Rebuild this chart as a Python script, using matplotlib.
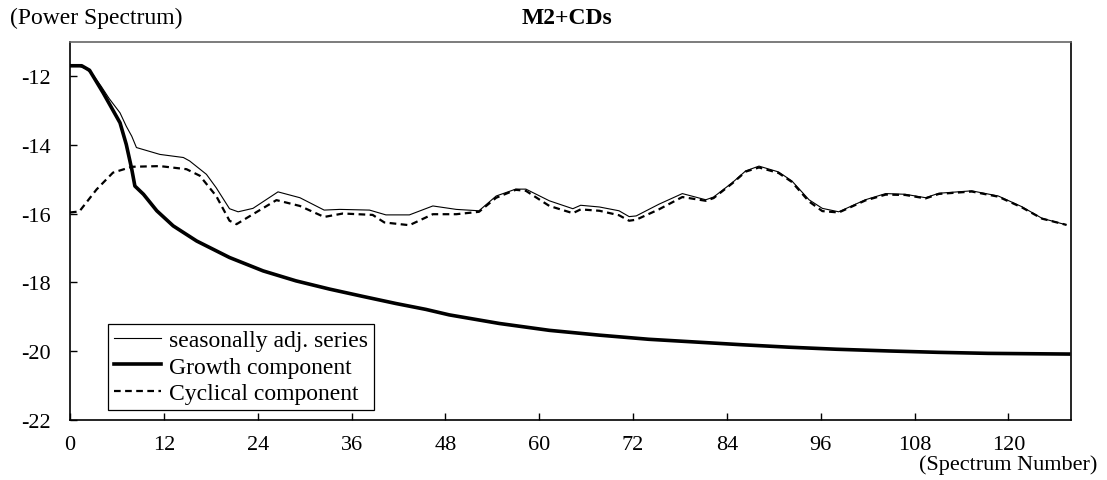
import matplotlib
matplotlib.use("Agg")
import matplotlib.pyplot as plt

# values (spectrum number, log power)
sa_x = [0, 1, 2, 3, 4, 5, 6.4, 7.2, 7.9, 8.5, 11.5, 14.5, 15.3, 17.45, 18.7, 20.4,
        21.5, 23.4, 26.6, 29.4, 32.5, 34.5, 38.3, 40.4, 43.4, 46.4, 49.4, 52.3,
        54.5, 57, 58.3, 61.3, 64.3, 65.3, 67.7, 70.2, 71.5, 72.4, 75.3, 78.3,
        81.3, 82.3, 84.7, 86.4, 88.1, 90.6, 92.3, 94.5, 96.2, 98.3, 101.7, 104.3,
        106.8, 109.4, 111.1, 115.3, 118.7, 121.7, 124.3, 127.4]
sa_y = [-11.70, -11.70, -11.78, -11.98, -12.30, -12.65, -13.07, -13.46, -13.75,
        -14.08, -14.28, -14.37, -14.47, -14.86, -15.25, -15.86, -15.95, -15.85,
        -15.37, -15.54, -15.90, -15.88, -15.90, -16.04, -16.04, -15.78, -15.88,
        -15.92, -15.49, -15.29, -15.29, -15.63, -15.86, -15.76, -15.81, -15.92,
        -16.09, -16.07, -15.73, -15.42, -15.60, -15.52, -15.10, -14.76, -14.62,
        -14.79, -15.05, -15.60, -15.85, -15.95, -15.60, -15.42, -15.44, -15.54,
        -15.41, -15.34, -15.49, -15.80, -16.14, -16.33]

cyc_x = [0, 1.2, 3.4, 5.5, 7.9, 11.5, 14.9, 16.6, 18.7, 20.4, 21.3, 23.4, 26.4,
         29.4, 32.5, 34.9, 38.7, 40.2, 43.4, 46.4, 49.4, 52.3, 54.5, 57, 58.3,
         61.3, 64.3, 65.3, 67.7, 70.2, 71.5, 72.4, 75.3, 78.3, 81.3, 82.3, 84.7,
         86.4, 88.1, 90.6, 92.3, 94.5, 96.2, 98.3, 101.7, 104.3, 106.8, 109.4,
         111.1, 115.3, 118.7, 121.7, 124.3, 127.4]
cyc_y = [-15.97, -15.94, -15.30, -14.81, -14.64, -14.62, -14.71, -14.90, -15.49,
         -16.21, -16.31, -16.02, -15.61, -15.78, -16.10, -16.00, -16.04, -16.26,
         -16.34, -16.02, -16.02, -15.95, -15.54, -15.31, -15.34, -15.78, -15.99,
         -15.88, -15.92, -16.05, -16.21, -16.18, -15.88, -15.52, -15.63, -15.55,
         -15.12, -14.78, -14.66, -14.82, -15.08, -15.65, -15.93, -15.97, -15.62,
         -15.45, -15.46, -15.56, -15.43, -15.36, -15.51, -15.82, -16.15, -16.33]

gr_x = [0, 1.5, 2.5, 4.25, 6.4, 7.2, 7.9, 8.3, 9.4, 11.1, 13.2, 16.2, 20.4, 24.7,
        28.9, 33.2, 37.4, 41.7, 45.5, 48.5, 54.9, 61.3, 67.7, 74, 80, 86, 91.9,
        98, 104.7, 111, 117.4, 122.5, 127.7]
gr_y = [-11.70, -11.70, -11.83, -12.49, -13.36, -13.99, -14.71, -15.20, -15.44,
        -15.92, -16.36, -16.80, -17.28, -17.67, -17.96, -18.20, -18.41, -18.62,
        -18.79, -18.95, -19.20, -19.40, -19.54, -19.66, -19.74, -19.82, -19.89,
        -19.95, -20.00, -20.04, -20.07, -20.08, -20.09]

x_ticks = list(range(0, 121, 12))
y_ticks = [-22, -20, -18, -16, -14, -12]

plt.rcParams["font.family"] = ["Liberation Serif", "DejaVu Serif"]
plt.rcParams["axes.unicode_minus"] = False

fig = plt.figure(figsize=(11.07, 4.81), dpi=100)
ax = fig.add_axes([0.0632, 0.1254, 0.9043, 0.7858])

ax.plot(sa_x, sa_y, color="black", lw=0.8, label="seasonally adj. series")
ax.plot(gr_x, gr_y, color="black", lw=2.6, label="Growth component")
ax.plot(cyc_x, cyc_y, color="black", lw=1.6, ls=(0, (3, 2)),
        label="Cyclical component")

ax.set_xlim(0, 128)
ax.set_ylim(-22, -11)
ax.set_xticks(x_ticks)
ax.set_yticks(y_ticks)
ax.tick_params(axis="both", direction="in", length=5, width=1, labelsize=16,
               colors="black")
ax.tick_params(axis="x", pad=11)
ax.tick_params(axis="y", pad=14)

for side in ("left", "bottom", "right"):
    ax.spines[side].set_color("black")
    ax.spines[side].set_linewidth(1.2)
ax.spines["top"].set_color("#666666")
ax.spines["top"].set_linewidth(1.2)

leg = ax.legend(loc="lower left", bbox_to_anchor=(0.038, 0.026), fontsize=17,
                frameon=True, fancybox=False, framealpha=1, edgecolor="black",
                handlelength=2.0, handletextpad=0.35, borderpad=0.25,
                labelspacing=0.2, borderaxespad=0.0)
leg.get_frame().set_linewidth(0.9)

fig.text(0.009, 0.962, "(Power Spectrum)", fontsize=17, ha="left", va="center")
fig.text(0.512, 0.962, "M2+CDs", fontsize=17, fontweight="bold",
         ha="center", va="center")
fig.text(0.991, 0.032, "(Spectrum Number)", fontsize=16, ha="right",
         va="center")

fig.savefig("out.png", dpi=100)
